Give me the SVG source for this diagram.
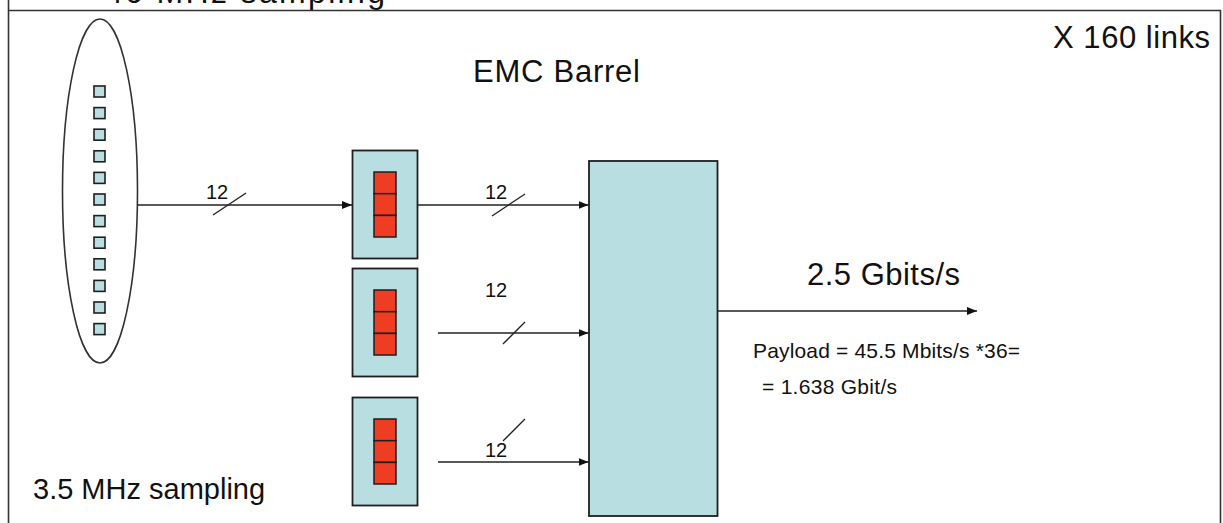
<svg xmlns="http://www.w3.org/2000/svg" width="1223" height="523" viewBox="0 0 1223 523">
<style>
  text { font-family: "Liberation Sans", Arial, sans-serif; fill: #111; }
  .blue { fill: #b9dee2; stroke: #1e1e1e; stroke-width: 1.8; }
  .red { fill: #ef3d24; stroke: #1e1e1e; stroke-width: 1.5; }
  .sq { fill: #b9dee2; stroke: #1e1e1e; stroke-width: 1.6; }
  .wire { stroke: #222; stroke-width: 1.3; fill: none; }
  .slash { stroke: #222; stroke-width: 1.3; }
  .frame { stroke: #333; stroke-width: 1.6; fill: none; }
  .num { font-size: 20px; }
</style>
<defs>
  <marker id="ah" markerWidth="10" markerHeight="8" refX="10" refY="4" orient="auto" markerUnits="userSpaceOnUse">
    <path d="M0,0 L10,4 L0,8 Z" fill="#111"/>
  </marker>
</defs>
<rect width="1223" height="523" fill="#fff"/>
<g id="frame">
  <text x="105" y="3" font-size="32" textLength="280">40 MHz sampling</text>
  <path class="frame" d="M8.5,0 V523 M8.5,10.5 H1220.5 V523"/>
</g>
<g id="detector">
  <ellipse cx="100" cy="191" rx="37.5" ry="172" fill="#fff" stroke="#333" stroke-width="1.6"/>
  <rect class="sq" x="94" y="86" width="11" height="11"/>
  <rect class="sq" x="94" y="107.6" width="11" height="11"/>
  <rect class="sq" x="94" y="129.2" width="11" height="11"/>
  <rect class="sq" x="94" y="150.8" width="11" height="11"/>
  <rect class="sq" x="94" y="172.4" width="11" height="11"/>
  <rect class="sq" x="94" y="194" width="11" height="11"/>
  <rect class="sq" x="94" y="215.6" width="11" height="11"/>
  <rect class="sq" x="94" y="237.2" width="11" height="11"/>
  <rect class="sq" x="94" y="258.8" width="11" height="11"/>
  <rect class="sq" x="94" y="280.4" width="11" height="11"/>
  <rect class="sq" x="94" y="302" width="11" height="11"/>
  <rect class="sq" x="94" y="323.6" width="11" height="11"/>
</g>
<g id="fe1">
  <rect class="blue" x="352.5" y="150.5" width="65" height="108"/>
  <rect class="red" x="374" y="172" width="22" height="21.7"/>
  <rect class="red" x="374" y="193.7" width="22" height="21.7"/>
  <rect class="red" x="374" y="215.4" width="22" height="21.6"/>
</g>
<g id="fe2">
  <rect class="blue" x="352.5" y="268.5" width="65" height="108"/>
  <rect class="red" x="374" y="290" width="22" height="21.7"/>
  <rect class="red" x="374" y="311.7" width="22" height="21.7"/>
  <rect class="red" x="374" y="333.4" width="22" height="21.6"/>
</g>
<g id="fe3">
  <rect class="blue" x="352.5" y="397.5" width="65" height="108"/>
  <rect class="red" x="374" y="419" width="22" height="21.7"/>
  <rect class="red" x="374" y="440.7" width="22" height="21.7"/>
  <rect class="red" x="374" y="462.4" width="22" height="21.6"/>
</g>
<g id="serializer">
  <rect class="blue" x="589" y="161" width="128.5" height="355"/>
</g>
<g id="connectors">
  <line class="wire" x1="137.5" y1="205" x2="352" y2="205" marker-end="url(#ah)"/>
  <line class="slash" x1="213" y1="215" x2="246" y2="193"/>
  <text class="num" x="206" y="199">12</text>

  <line class="wire" x1="417.5" y1="205" x2="588.5" y2="205" marker-end="url(#ah)"/>
  <line class="slash" x1="492" y1="216" x2="525" y2="194"/>
  <text class="num" x="485" y="199">12</text>

  <line class="wire" x1="438" y1="333" x2="588.5" y2="333" marker-end="url(#ah)"/>
  <line class="slash" x1="503" y1="344" x2="525" y2="322"/>
  <text class="num" x="485" y="297">12</text>

  <line class="wire" x1="438" y1="462" x2="588.5" y2="462" marker-end="url(#ah)"/>
  <line class="slash" x1="503" y1="441" x2="525" y2="419"/>
  <text class="num" x="485" y="457">12</text>

  <line class="wire" x1="718" y1="311" x2="977" y2="311" marker-end="url(#ah)"/>
</g>
<g id="labels">
  <text x="473" y="82" font-size="31" textLength="167">EMC Barrel</text>
  <text x="1053" y="48" font-size="31" textLength="157">X 160 links</text>
  <text x="33" y="499" font-size="29">3.5 MHz sampling</text>
  <text x="807" y="285" font-size="31" textLength="153">2.5 Gbits/s</text>
  <text x="753" y="358" font-size="21" textLength="267">Payload = 45.5 Mbits/s *36=</text>
  <text x="762" y="394" font-size="21" textLength="135">= 1.638 Gbit/s</text>
</g>
</svg>
